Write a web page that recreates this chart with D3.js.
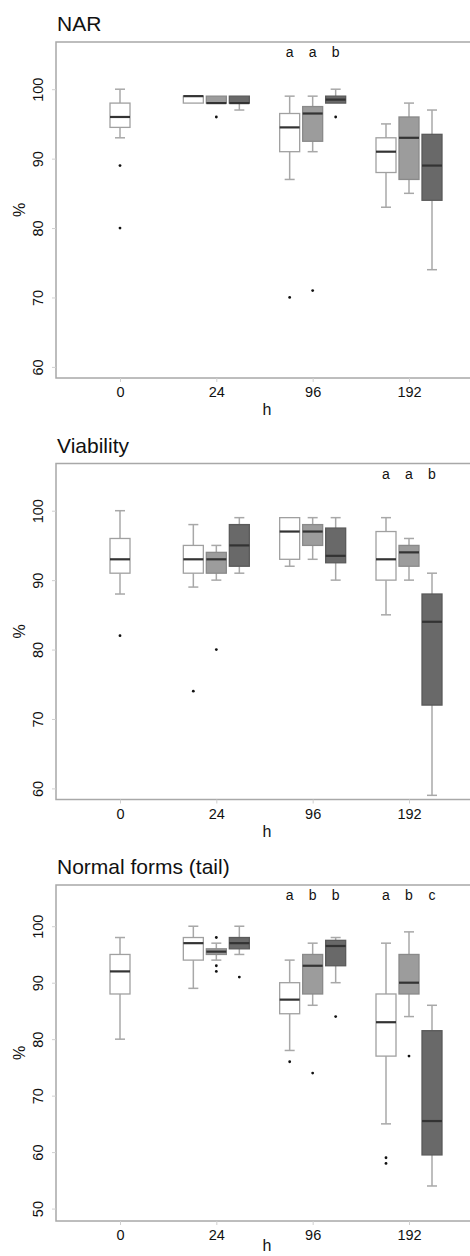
<!DOCTYPE html>
<html>
<head>
<meta charset="utf-8">
<script src="https://cdn.jsdelivr.net/npm/d3@7"></script>
<style>
  body { margin: 0; background: #fff; }
  svg { display: block; font-family: "Liberation Sans", Arial, sans-serif; }
</style>
</head>
<body>
<script>
// categories
const hours = ["0", "24", "96", "192"];
const treatments = [0, 1, 2];

// box stats: [min, q1, median, q3, max]
const narBoxes = [
  {h: "0", t: 0, s: [93, 94.5, 96, 98, 100]},
  {h: "24", t: 0, s: [98, 98, 99, 99, 99]},
  {h: "24", t: 1, s: [98, 98, 98, 99, 99]},
  {h: "24", t: 2, s: [97, 98, 98, 99, 99]},
  {h: "96", t: 0, s: [87, 91, 94.5, 96.5, 99]},
  {h: "96", t: 1, s: [91, 92.5, 96.5, 97.5, 99]},
  {h: "96", t: 2, s: [98, 98, 98.5, 99, 100]},
  {h: "192", t: 0, s: [83, 88, 91, 93, 95]},
  {h: "192", t: 1, s: [85, 87, 93, 96, 98]},
  {h: "192", t: 2, s: [74, 84, 89, 93.5, 97]}
];
const narOutliers = [
  {h: "0", t: 0, v: 89}, {h: "0", t: 0, v: 80},
  {h: "24", t: 1, v: 96},
  {h: "96", t: 0, v: 70}, {h: "96", t: 1, v: 71}, {h: "96", t: 2, v: 96}
];
const narLetters = [
  {h: "96", t: 0, l: "a"}, {h: "96", t: 1, l: "a"}, {h: "96", t: 2, l: "b"}
];

const viaBoxes = [
  {h: "0", t: 0, s: [88, 91, 93, 96, 100]},
  {h: "24", t: 0, s: [89, 91, 93, 95, 98]},
  {h: "24", t: 1, s: [90, 91, 93, 94, 95]},
  {h: "24", t: 2, s: [91, 92, 95, 98, 99]},
  {h: "96", t: 0, s: [92, 93, 97, 99, 99]},
  {h: "96", t: 1, s: [93, 95, 97, 98, 99]},
  {h: "96", t: 2, s: [90, 92.5, 93.5, 97.5, 99]},
  {h: "192", t: 0, s: [85, 90, 93, 97, 99]},
  {h: "192", t: 1, s: [90, 92, 94, 95, 96]},
  {h: "192", t: 2, s: [59, 72, 84, 88, 91]}
];
const viaOutliers = [
  {h: "0", t: 0, v: 82},
  {h: "24", t: 0, v: 74}, {h: "24", t: 1, v: 80}
];
const viaLetters = [
  {h: "192", t: 0, l: "a"}, {h: "192", t: 1, l: "a"}, {h: "192", t: 2, l: "b"}
];

const nfBoxes = [
  {h: "0", t: 0, s: [80, 88, 92, 95, 98]},
  {h: "24", t: 0, s: [89, 94, 97, 98, 100]},
  {h: "24", t: 1, s: [94, 95, 95.5, 96, 97]},
  {h: "24", t: 2, s: [95, 96, 97, 98, 100]},
  {h: "96", t: 0, s: [78, 84.5, 87, 90, 94]},
  {h: "96", t: 1, s: [86, 88, 93, 95, 97]},
  {h: "96", t: 2, s: [90, 93, 96.5, 97.5, 98]},
  {h: "192", t: 0, s: [65, 77, 83, 88, 97]},
  {h: "192", t: 1, s: [84, 88, 90, 95, 99]},
  {h: "192", t: 2, s: [54, 59.5, 65.5, 81.5, 86]}
];
const nfOutliers = [
  {h: "24", t: 1, v: 98}, {h: "24", t: 1, v: 93}, {h: "24", t: 1, v: 92},
  {h: "24", t: 2, v: 91},
  {h: "96", t: 0, v: 76}, {h: "96", t: 1, v: 74}, {h: "96", t: 2, v: 84},
  {h: "192", t: 0, v: 59}, {h: "192", t: 0, v: 58}, {h: "192", t: 1, v: 77}
];
const nfLetters = [
  {h: "96", t: 0, l: "a"}, {h: "96", t: 1, l: "b"}, {h: "96", t: 2, l: "b"},
  {h: "192", t: 0, l: "a"}, {h: "192", t: 1, l: "b"}, {h: "192", t: 2, l: "c"}
];

const ticks6090 = [60, 70, 80, 90, 100];
const ticks5090 = [50, 60, 70, 80, 90, 100];

const panels = [
  {title: "NAR", boxes: narBoxes, outliers: narOutliers, letters: narLetters, domain: [58.4, 106.8], ticks: ticks6090},
  {title: "Viability", boxes: viaBoxes, outliers: viaOutliers, letters: viaLetters, domain: [58.4, 106.8], ticks: ticks6090},
  {title: "Normal forms (tail)", boxes: nfBoxes, outliers: nfOutliers, letters: nfLetters, domain: [47.8, 107.3], ticks: ticks5090}
];

const fills = ["#ffffff", "#9c9c9c", "#696969"];
const strokes = ["#a0a0a0", "#8a8a8a", "#5a5a5a"];

const W = 470, H = 1256;
const left = 56, plotH = 336, panelStep = 421.5, firstTop = 42;
const boxW = 20, capW = 10;

const svg = d3.select("body").append("svg")
  .attr("width", W).attr("height", H);

const x = d3.scalePoint().domain(hours).range([120, 409]);
const offset = d3.scalePoint().domain(treatments).range([-23, 23]);

function boxX(d, boxes) {
  const n = boxes.filter(b => b.h === d.h).length;
  return x(d.h) + (n === 1 ? 0 : offset(d.t));
}

panels.forEach((p, i) => {
  const top = firstTop + i * panelStep;
  const g = svg.append("g").attr("transform", `translate(0, ${top})`);
  const y = d3.scaleLinear().domain(p.domain).range([plotH, 0]);

  // title
  g.append("text")
    .attr("x", left + 1).attr("y", -11)
    .attr("font-size", 21).attr("fill", "#111")
    .text(p.title);

  // frame
  g.append("rect")
    .attr("x", left).attr("y", 0)
    .attr("width", W + 20 - left).attr("height", plotH)
    .attr("fill", "none").attr("stroke", "#a8a8a8").attr("stroke-width", 1.5);

  // y axis
  const yAxis = g.append("g")
    .attr("transform", `translate(${left}, 0)`)
    .call(d3.axisLeft(y).tickValues(p.ticks).tickSize(4).tickFormat(d3.format("d")));
  yAxis.select(".domain").remove();
  yAxis.selectAll(".tick line").attr("stroke", "#d0d0d0");
  yAxis.selectAll(".tick text")
    .attr("transform", "rotate(-90)")
    .attr("x", 0).attr("y", -18).attr("dy", "0.35em")
    .attr("text-anchor", "middle")
    .attr("font-size", 14.5).attr("fill", "#111")
    .attr("font-family", "Liberation Sans, Arial, sans-serif");

  // x axis
  const xAxis = g.append("g")
    .attr("transform", `translate(0, ${plotH})`)
    .call(d3.axisBottom(x).tickSize(4).tickSizeOuter(0));
  xAxis.select(".domain").remove();
  xAxis.selectAll(".tick line").attr("stroke", "#d0d0d0");
  xAxis.selectAll(".tick text")
    .attr("y", 9).attr("dy", "0.71em")
    .attr("font-size", 14.5).attr("fill", "#111")
    .attr("font-family", "Liberation Sans, Arial, sans-serif");

  // axis titles
  g.append("text")
    .attr("x", 267).attr("y", Math.min(plotH + 37, H - top - 5))
    .attr("text-anchor", "middle")
    .attr("font-size", 16).attr("fill", "#111")
    .text("h");
  g.append("text")
    .attr("transform", `translate(25, ${plotH / 2}) rotate(-90)`)
    .attr("text-anchor", "middle")
    .attr("font-size", 16).attr("fill", "#111")
    .text("%");

  // boxes
  const bx = g.selectAll(".box").data(p.boxes).enter().append("g")
    .attr("class", "box");

  bx.each(function(d) {
    const sel = d3.select(this);
    const cx = boxX(d, p.boxes);
    const [mn, q1, md, q3, mx] = d.s;
    const wc = "#a8a8a8";
    if (mx > q3) {
      sel.append("line").attr("x1", cx).attr("x2", cx)
        .attr("y1", y(q3)).attr("y2", y(mx))
        .attr("stroke", wc).attr("stroke-width", 1.5);
      sel.append("line").attr("x1", cx - capW / 2).attr("x2", cx + capW / 2)
        .attr("y1", y(mx)).attr("y2", y(mx))
        .attr("stroke", wc).attr("stroke-width", 1.5);
    }
    if (mn < q1) {
      sel.append("line").attr("x1", cx).attr("x2", cx)
        .attr("y1", y(q1)).attr("y2", y(mn))
        .attr("stroke", wc).attr("stroke-width", 1.5);
      sel.append("line").attr("x1", cx - capW / 2).attr("x2", cx + capW / 2)
        .attr("y1", y(mn)).attr("y2", y(mn))
        .attr("stroke", wc).attr("stroke-width", 1.5);
    }
    sel.append("rect")
      .attr("x", cx - boxW / 2).attr("y", y(q3))
      .attr("width", boxW).attr("height", Math.max(1, y(q1) - y(q3)))
      .attr("fill", fills[d.t]).attr("stroke", strokes[d.t]).attr("stroke-width", 1.3);
    sel.append("line")
      .attr("x1", cx - boxW / 2).attr("x2", cx + boxW / 2)
      .attr("y1", y(md)).attr("y2", y(md))
      .attr("stroke", "#333").attr("stroke-width", 2.2);
  });

  // outliers
  g.selectAll(".out").data(p.outliers).enter().append("circle")
    .attr("cx", d => boxX(d, p.boxes))
    .attr("cy", d => y(d.v))
    .attr("r", 1.4)
    .attr("fill", "#111");

  // significance letters
  g.selectAll(".letter").data(p.letters).enter().append("text")
    .attr("x", d => boxX(d, p.boxes))
    .attr("y", 15)
    .attr("text-anchor", "middle")
    .attr("font-size", 14).attr("fill", "#111")
    .text(d => d.l);
});
</script>
</body>
</html>
